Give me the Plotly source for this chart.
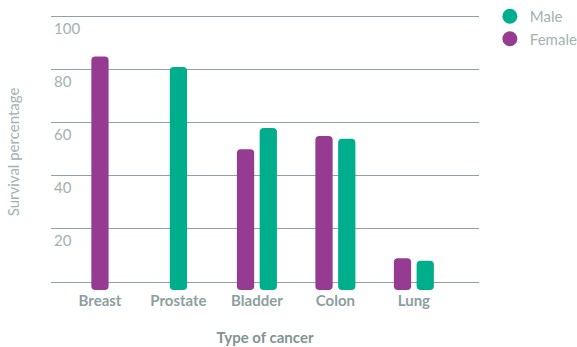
import plotly.graph_objects as go

# ---- data ----
categories = ["Breast", "Prostate", "Bladder", "Colon", "Lung"]
female = [85, None, 50, 55, 9]
male = [None, 81, 58, 54, 8]
y_ticks = [0, 20, 40, 60, 80, 100]
y_tick_text = ["", "20", "40", "60", "80", "100"]

# ---- styles ----
PURPLE = "#953c92"
GREEN = "#00ae8d"
TICK_GREY = "#a2b2b1"
CAT_GREY = "#8c9f9e"
GRID = "#8ea2a1"
FONT = "Lato"
BAR_W = 0.22
GAP = 0.07
BAR_BASE = -3


def offsets(own, other, first):
    out = []
    for a, b in zip(own, other):
        if b is None:
            out.append(-BAR_W / 2)
        else:
            out.append(-(BAR_W + GAP / 2) if first else GAP / 2)
    return out


def heights(vals):
    return [None if v is None else v - BAR_BASE for v in vals]


fig = go.Figure()
fig.add_trace(go.Bar(
    x=categories, y=heights(female), base=BAR_BASE, name="Female",
    width=BAR_W, offset=offsets(female, male, True),
    marker=dict(color=PURPLE, line=dict(width=0)), showlegend=False,
))
fig.add_trace(go.Bar(
    x=categories, y=heights(male), base=BAR_BASE, name="Male",
    width=BAR_W, offset=offsets(male, female, False),
    marker=dict(color=GREEN, line=dict(width=0)), showlegend=False,
))
# legend entries with round symbols
fig.add_trace(go.Scatter(x=[None], y=[None], mode="markers", name="Male",
                         marker=dict(color=GREEN, size=15, symbol="circle")))
fig.add_trace(go.Scatter(x=[None], y=[None], mode="markers", name="Female",
                         marker=dict(color=PURPLE, size=15, symbol="circle")))

fig.update_layout(
    width=577, height=347,
    margin=dict(l=51, r=98, t=14.35, b=56.7, autoexpand=False),
    paper_bgcolor="white", plot_bgcolor="white",
    barmode="overlay", barcornerradius=4,
    font=dict(family=FONT, color=TICK_GREY),
    legend=dict(x=0.849, y=1.008, xref="container", yref="container",
                xanchor="left", yanchor="top",
                font=dict(size=15, color=TICK_GREY),
                bgcolor="rgba(0,0,0,0)", tracegroupgap=0, itemwidth=30),
    showlegend=True,
)
fig.update_xaxes(
    type="category", range=[-0.624, 4.83], automargin=False,
    showgrid=False, zeroline=False, showline=False, ticks="",
    tickfont=dict(family=FONT, size=15, color=CAT_GREY, weight="bold"),
    title=dict(text="Type of cancer", standoff=24,
               font=dict(family=FONT, size=15, color="#7f9392", weight="bold")),
)
fig.update_yaxes(
    range=[BAR_BASE, 101], tickvals=y_ticks, ticktext=y_tick_text, automargin=False,
    showgrid=True, gridcolor=GRID, gridwidth=1, zeroline=False, showline=False,
    ticks="", ticklabelposition="inside", ticklabelshift=12, ticklabelstandoff=0,
    tickfont=dict(family=FONT, size=15, color=TICK_GREY),
    title=dict(text="Survival percentage", standoff=30,
               font=dict(family=FONT, size=15, color=TICK_GREY)),
)

fig.write_html("out.html")
